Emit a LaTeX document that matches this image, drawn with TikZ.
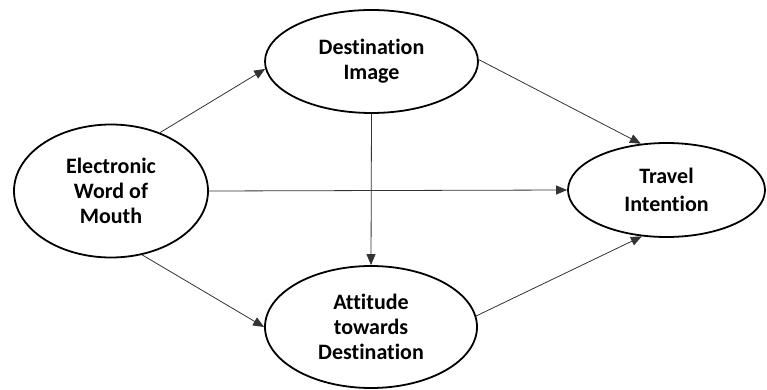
\documentclass[tikz,border=0pt]{standalone}
\usepackage{fontspec}
\setmainfont[Ligatures=NoCommon]{Carlito}
\usetikzlibrary{shapes.geometric,arrows.meta}
\tikzset{
  construct/.style={draw=black, line width=1.8pt, ellipse, inner sep=0pt, align=center,
    font=\bfseries\fontsize{22}{25}\selectfont, text=black},
  link/.style={draw=black!80, line width=0.8pt, -{Triangle[length=11pt,width=9pt]}}
}
\begin{document}
\begin{tikzpicture}[x=1pt,y=-1pt]
\useasboundingbox (0,0) rectangle (767,390);
\node[construct, minimum width=194pt, minimum height=133pt] (ewom) at (111,191) {Electronic\\Word of\\Mouth};
\node[construct, minimum width=213pt, minimum height=103pt] (di) at (371.5,61.5) {Destination\\Image};
\node[construct, minimum width=212pt, minimum height=122pt] (att) at (371,327) {\raisebox{-3pt}{Attitude}\\\raisebox{-3pt}{towards}\\\raisebox{-3pt}{Destination}};
\node[construct, minimum width=197pt, minimum height=94pt] (ti) at (666.5,190) {Travel\\[3pt]Intention};
\draw[link] (ewom.50) -- (di.184.6);
\draw[link] (ewom.296) -- (att.180);
\draw[link] (ewom.0.5) -- (ti.180);
\draw[link] (di.270) -- (att.90);
\draw[link] (di.1.3) -- (ti.119);
\draw[link] (att.6.6) -- (ti.242.5);
\end{tikzpicture}
\end{document}
